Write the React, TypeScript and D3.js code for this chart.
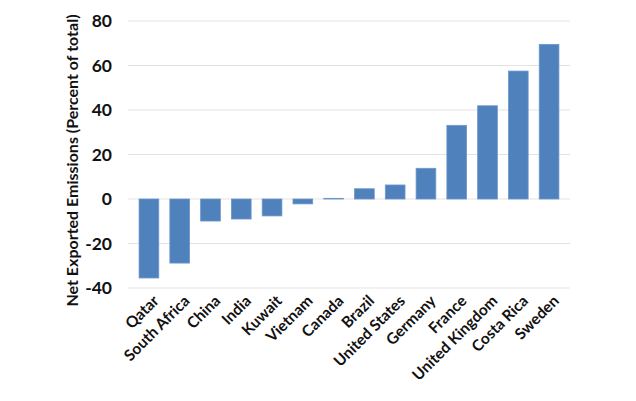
import { useRef, useEffect } from "react";
import * as d3 from "d3";

const countries = [
  "Qatar",
  "South Africa",
  "China",
  "India",
  "Kuwait",
  "Vietnam",
  "Canada",
  "Brazil",
  "United States",
  "Germany",
  "France",
  "United Kingdom",
  "Costa Rica",
  "Sweden",
];
const netExported = [-35.5, -28.8, -9.9, -9, -7.6, -2.2, 0.3, 4.6, 6.3, 13.8, 33.1, 41.9, 57.5, 69.5];
const yTicks = [-40, -20, 0, 20, 40, 60, 80];

const width = 636;
const height = 401;

const App = () => {
  const svgRef = useRef<SVGSVGElement | null>(null);

  useEffect(() => {
    if (!svgRef.current) return;
    const svg = d3.select(svgRef.current);
    svg.selectAll("*").remove();

    const margin = { top: 21, right: 66, bottom: 113, left: 128 };
    const innerWidth = width - margin.left - margin.right;
    const innerHeight = height - margin.top - margin.bottom;
    const font = "Lato, 'Open Sans', sans-serif";

    const x = d3.scaleBand().domain(countries).range([0, innerWidth]).padding(0.36);
    const y = d3.scaleLinear().domain([-40, 80]).range([innerHeight, 0]);

    const g = svg.append("g").attr("transform", `translate(${margin.left},${margin.top})`);

    // gridlines
    g.selectAll("line.grid")
      .data(yTicks)
      .enter()
      .append("line")
      .attr("x1", 0)
      .attr("x2", innerWidth)
      .attr("y1", (d) => y(d))
      .attr("y2", (d) => y(d))
      .attr("stroke", "#e3e3e3")
      .attr("stroke-width", 1.2);

    // y tick labels
    g.selectAll("text.ytick")
      .data(yTicks)
      .enter()
      .append("text")
      .attr("x", -16)
      .attr("y", (d) => y(d))
      .attr("dy", "0.35em")
      .attr("text-anchor", "end")
      .attr("font-family", font)
      .attr("font-weight", "bold")
      .attr("font-size", 17.5)
      .attr("fill", "#111")
      .text((d) => d);

    // bars
    const data = countries.map((c, i) => ({ name: c, value: netExported[i] }));
    g.selectAll("rect")
      .data(data)
      .enter()
      .append("rect")
      .attr("x", (d) => x(d.name)!)
      .attr("y", (d) => y(Math.max(0, d.value)))
      .attr("width", x.bandwidth())
      .attr("height", (d) => Math.abs(y(d.value) - y(0)))
      .attr("fill", "#4f81bd")
      .attr("stroke", "#6d96c8")
      .attr("stroke-width", 0.8);

    // category labels
    g.selectAll("text.cat")
      .data(countries)
      .enter()
      .append("text")
      .attr("transform", (d) => `translate(${x(d)! + x.bandwidth() / 2 + 7},${innerHeight + 10}) rotate(-45)`)
      .attr("text-anchor", "end")
      .attr("dy", "0.35em")
      .attr("font-family", font)
      .attr("font-weight", "bold")
      .attr("font-size", 15.5)
      .attr("fill", "#111")
      .text((d) => d);

    // y axis title
    svg
      .append("text")
      .attr("transform", `translate(72,${margin.top + innerHeight / 2 + 6}) rotate(-90)`)
      .attr("text-anchor", "middle")
      .attr("dy", "0.35em")
      .attr("font-family", font)
      .attr("font-weight", "bold")
      .attr("font-size", 16)
      .attr("fill", "#111")
      .text("Net Exported Emissions (Percent of total)");
  }, []);

  return (
    <div style={{ width, height }}>
      <svg ref={svgRef} width={width} height={height} style={{ position: "absolute", left: 0, top: 0 }}></svg>
    </div>
  );
};

export default App;
